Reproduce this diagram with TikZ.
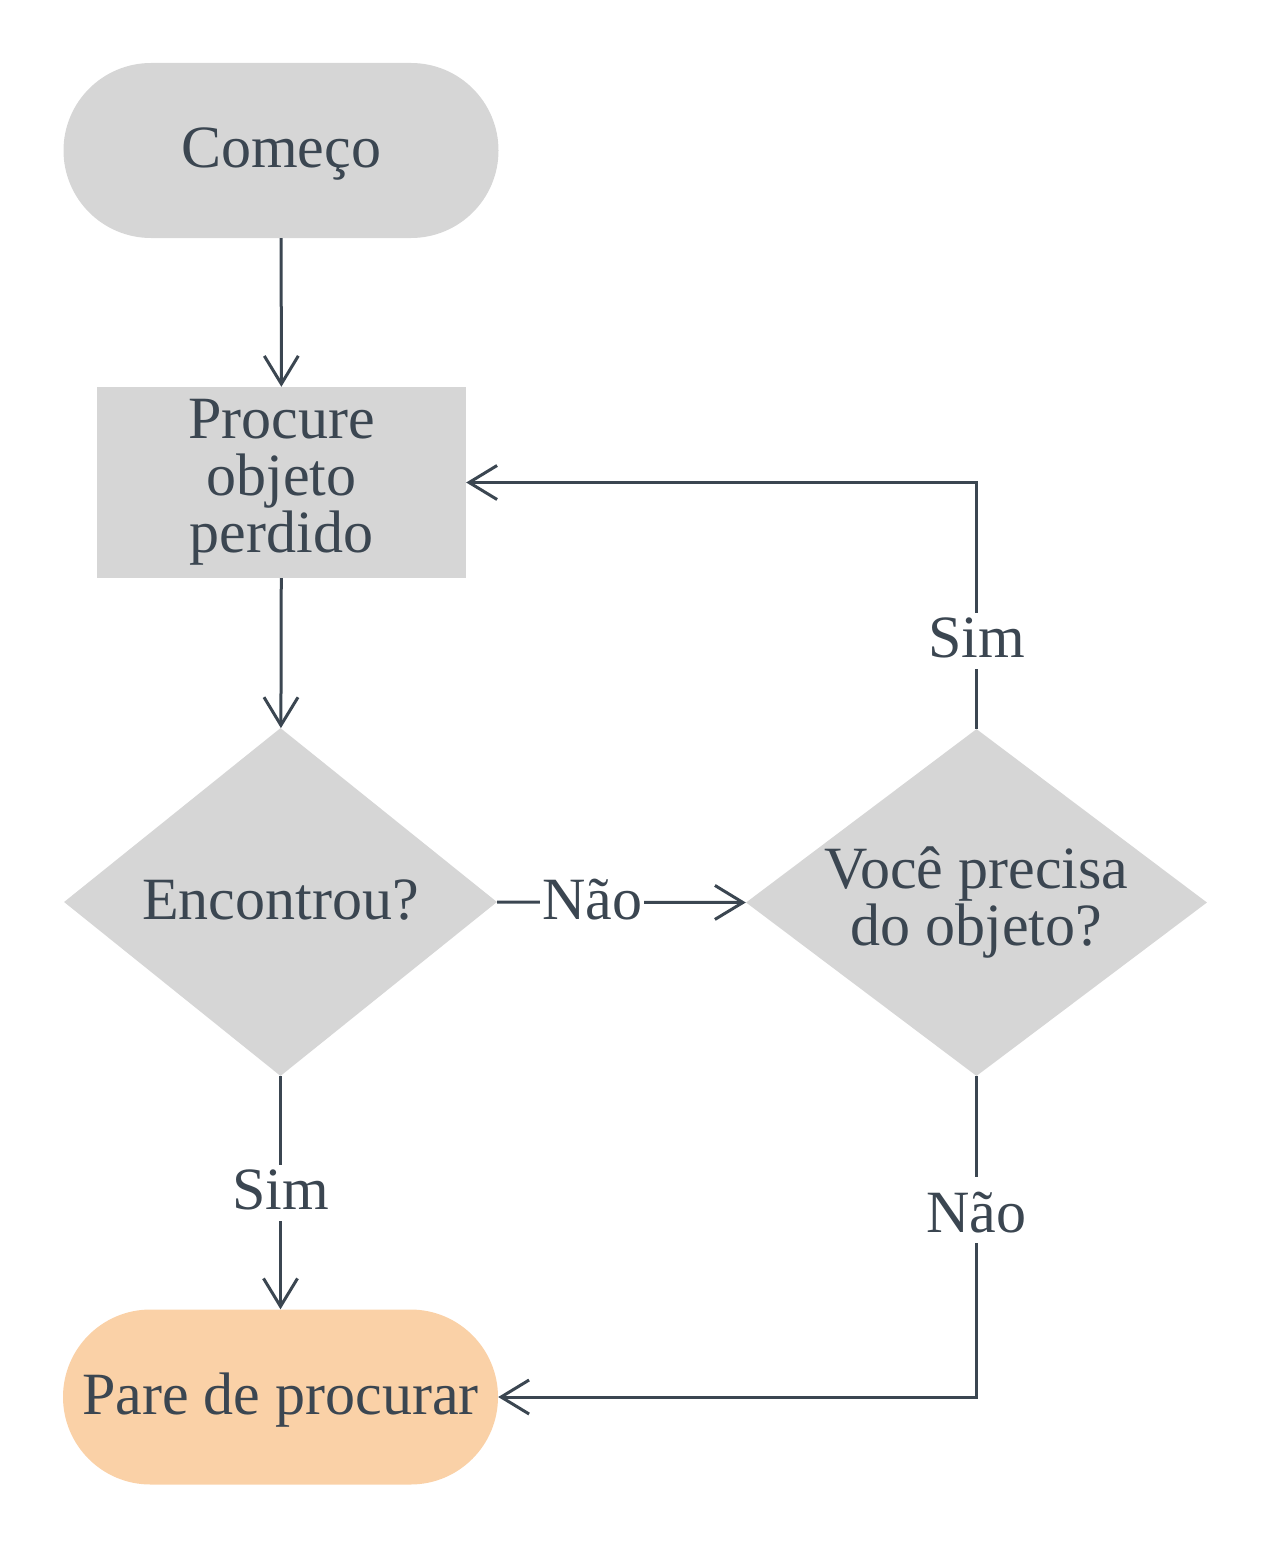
\documentclass[tikz,border=0pt]{standalone}
\usepackage{fontspec}
\setmainfont{Liberation Serif}
\usetikzlibrary{shapes.geometric,shapes.misc,arrows.meta}
\definecolor{ink}{HTML}{3B4651}
\definecolor{boxgray}{HTML}{D6D6D6}
\definecolor{stoporange}{HTML}{FAD1A7}
\begin{document}
\begin{tikzpicture}[x=1pt,y=-1pt,
  base/.style={text=ink, font=\fontsize{60}{57}\selectfont, inner sep=0pt},
  oneline/.style={text height=40pt, text depth=5pt},
  term/.style={base, oneline, rounded rectangle, fill=boxgray, minimum width=435pt, minimum height=175pt},
  proc/.style={base, rectangle, fill=boxgray, minimum width=369pt, minimum height=191pt, align=center},
  dec/.style={base, diamond, fill=boxgray, align=center},
  conn/.style={draw=ink, line width=3pt, -{Straight Barb[length=28pt,width=34pt]}},
  lab/.style={base, fill=white, inner xsep=2pt, inner ysep=3pt, text height=42pt, text depth=8pt},
  tildelab/.style={lab, text height=52pt}
]
\useasboundingbox (0,0) rectangle (1272,1549);
\node[term] (start) at (281,150.5) {Começo};
\node[proc] (proc) at (281.5,482.5) {Procure\\objeto\\perdido};
\node[dec, oneline, aspect=1.24, minimum width=433pt, minimum height=348pt] (enc) at (280.5,902) {Encontrou?};
\node[dec, aspect=1.33, minimum width=461pt, minimum height=347pt] (vp) at (976.5,902.5) {Você precisa\\do objeto?};
\node[term, fill=stoporange] (stop) at (280.5,1397) {Pare de procurar};

\draw[conn] (start) -- (proc);
\draw[conn] (proc) -- (enc);
\draw[conn] (enc.east) -- node[lab, pos=0.383] {Não} (vp.west);
\draw[conn] (enc.south) -- node[lab, pos=0.5] {Sim} (stop.north);
\draw[conn] (vp.north) |- node[lab, pos=0.179] {Sim} (proc.east);
\draw[conn] (vp.south) |- node[tildelab, pos=0.209] {Não} (stop.east);
\end{tikzpicture}
\end{document}
